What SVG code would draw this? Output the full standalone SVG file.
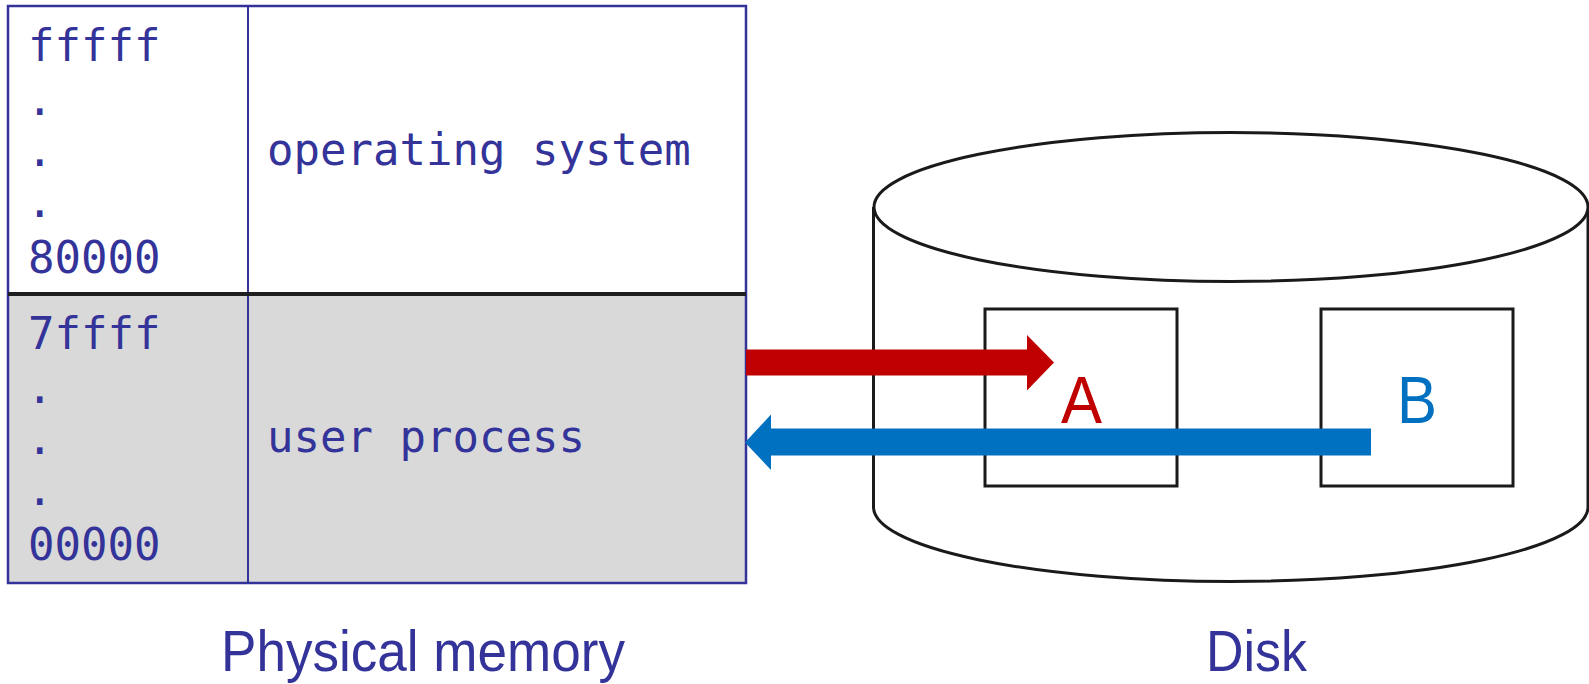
<svg xmlns="http://www.w3.org/2000/svg" width="1589" height="684" viewBox="0 0 1589 684">
  <style>
    .mono { font-family: "DejaVu Sans Mono", "Liberation Mono", monospace; font-size: 44px; fill: #333399; }
    .label { font-family: "Liberation Sans", Arial, sans-serif; font-size: 57px; fill: #333399; }
    .blk { font-family: "Liberation Sans", Arial, sans-serif; font-size: 66px; }
    .frame { fill: none; stroke: #333399; stroke-width: 2.5; }
    .disk { fill: #ffffff; stroke: #1a1a1a; stroke-width: 3; }
  </style>

  <!-- physical memory table -->
  <g id="memory">
    <rect x="8" y="6" width="738" height="289" fill="#ffffff"/>
    <rect x="8" y="295" width="738" height="288" fill="#d9d9d9"/>
    <rect class="frame" x="8" y="6" width="738" height="577"/>
    <line x1="248" y1="6" x2="248" y2="583" stroke="#333399" stroke-width="2"/>
    <line x1="8" y1="294" x2="746" y2="294" stroke="#1f1f1f" stroke-width="4"/>
  </g>

  <g id="os-region">
    <text class="mono" x="28" y="61">fffff</text>
    <text class="mono" x="26.5" y="114.5">.</text>
    <text class="mono" x="26.5" y="165.5">.</text>
    <text class="mono" x="26.5" y="216.5">.</text>
    <text class="mono" x="28" y="273">80000</text>
    <text class="mono" x="267" y="165">operating system</text>
  </g>

  <g id="user-region">
    <text class="mono" x="28" y="349">7ffff</text>
    <text class="mono" x="26.5" y="402.5">.</text>
    <text class="mono" x="26.5" y="453.5">.</text>
    <text class="mono" x="26.5" y="504.5">.</text>
    <text class="mono" x="28" y="560">00000</text>
    <text class="mono" x="267" y="452">user process</text>
  </g>

  <!-- disk cylinder -->
  <g id="disk">
    <path class="disk" d="M873.5,207 L873.5,507 A357,74.5 0 0 0 1588,507 L1588,207"/>
    <ellipse class="disk" cx="1231" cy="207" rx="357" ry="74.5"/>
  </g>

  <g id="block-a">
    <rect class="disk" x="985" y="309" width="192" height="177"/>
    <text class="blk" x="1081.5" y="423" text-anchor="middle" fill="#c00000" textLength="41" lengthAdjust="spacingAndGlyphs">A</text>
  </g>

  <g id="block-b">
    <rect class="disk" x="1321" y="309" width="192" height="177"/>
    <text class="blk" x="1417" y="423" text-anchor="middle" fill="#0070c0" textLength="40" lengthAdjust="spacingAndGlyphs">B</text>
  </g>

  <!-- transfer arrows -->
  <g id="connectors">
    <polygon fill="#c00000" points="746,349.5 1027,349.5 1027,335 1054,362.5 1027,390.5 1027,375.5 746,375.5"/>
    <polygon fill="#0070c0" points="1371,428.5 771,428.5 771,414.5 745,442.5 771,470 771,455.5 1371,455.5"/>
  </g>

  <g id="captions">
    <text class="label" x="221" y="671" textLength="404" lengthAdjust="spacingAndGlyphs">Physical memory</text>
    <text class="label" x="1206" y="671" textLength="101" lengthAdjust="spacingAndGlyphs">Disk</text>
  </g>
</svg>
